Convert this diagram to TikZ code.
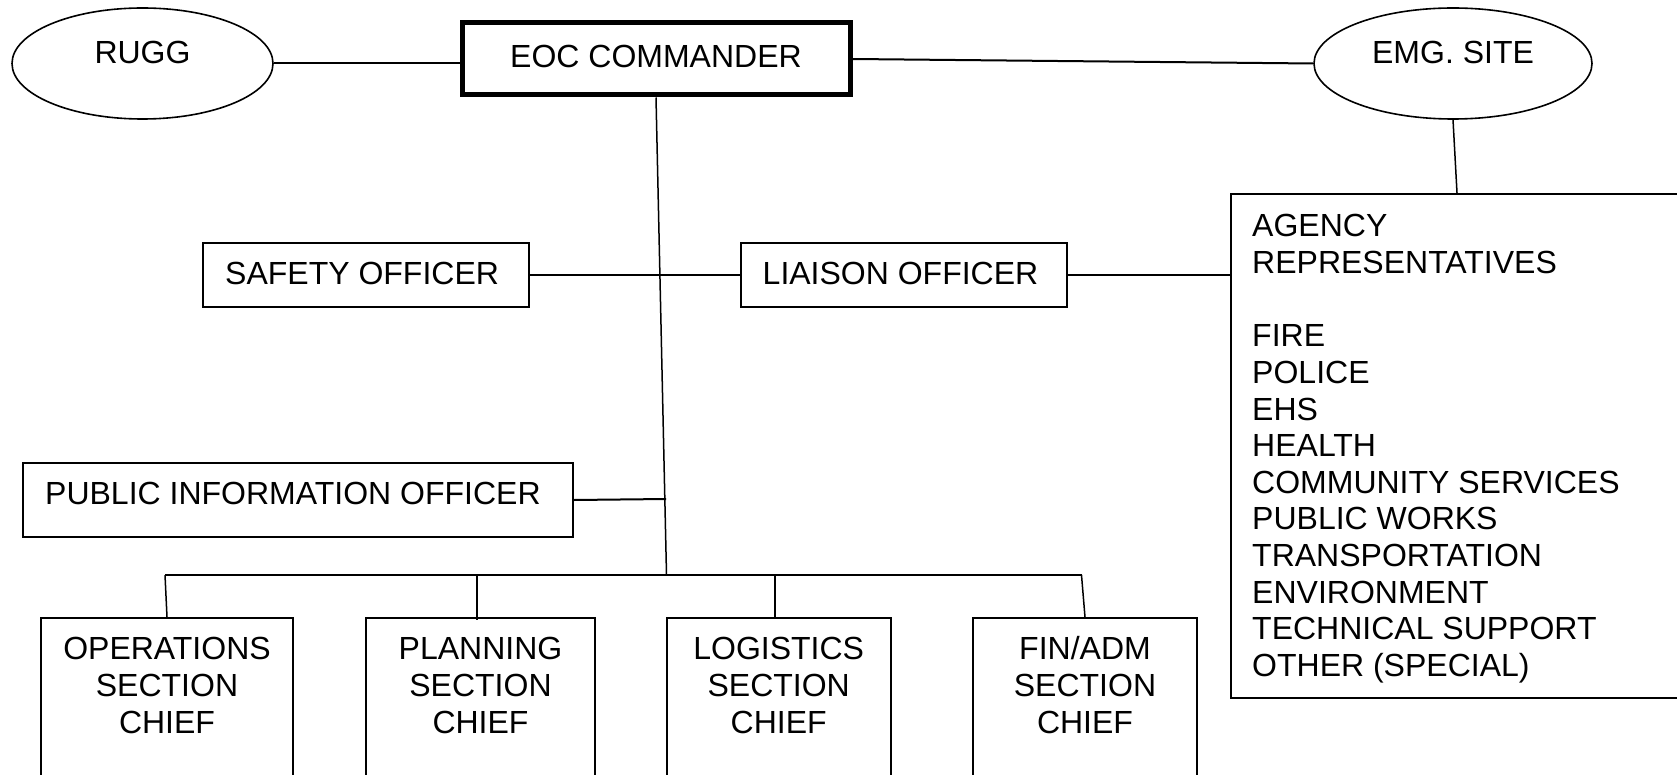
\documentclass[tikz,border=0pt]{standalone}
\usepackage{fontspec}
\setmainfont{Liberation Sans}
\usetikzlibrary{shapes.geometric,fit}
\begin{document}
\begin{tikzpicture}[x=1pt,y=-1pt,
  box/.style={draw, rectangle, line width=2pt, inner sep=0pt},
  oval/.style={draw, ellipse, line width=1.6pt, inner sep=0pt},
  txt/.style={font=\fontsize{32}{36.6}\selectfont, inner sep=0pt},
  link/.style={line width=2pt},
  thin link/.style={line width=1.5pt}]
\useasboundingbox (0,0) rectangle (1677,775);
\clip (0,0) rectangle (1677,775);
\fill[white] (0,0) rectangle (1677,775);

% ellipses
\node[oval, minimum width=261pt, minimum height=111pt] (rugg) at (142.5,63.5) {};
\node[txt, anchor=base] (ruggT) at (142.5,63.5) {RUGG};
\node[oval, minimum width=278pt, minimum height=111pt] (emg) at (1453,63.5) {};
\node[txt, anchor=base] (emgT) at (1453,63.5) {EMG. SITE};

% commander
\node[box, line width=5pt, fit={(462,23) (850,95)}] (eoc) {};
\node[txt, anchor=base] (eocT) at (656,67.5) {EOC COMMANDER};

% officers
\node[box, fit={(203,243) (529,307)}] (safety) {};
\node[txt, anchor=base west] (safetyT) at (225,284.5) {SAFETY OFFICER};
\node[box, fit={(740.5,243) (1067,307)}] (liaison) {};
\node[txt, anchor=base west] (liaisonT) at (762.5,284.5) {LIAISON OFFICER};
\node[box, fit={(23,463) (573,537)}] (pio) {};
\node[txt, anchor=base west] (pioT) at (45,504.5) {PUBLIC INFORMATION OFFICER};

% agency box
\node[box, fit={(1231,194) (1720,698)}] (agency) {};
\foreach \t/\i in {AGENCY/0, REPRESENTATIVES/1, FIRE/3, POLICE/4, EHS/5, HEALTH/6,
  COMMUNITY SERVICES/7, PUBLIC WORKS/8, TRANSPORTATION/9, ENVIRONMENT/10,
  TECHNICAL SUPPORT/11, OTHER (SPECIAL)/12}
  \node[txt, anchor=base west] (ag\i) at (1252,{237+36.6*\i}) {\t};

% section chiefs
\node[box, fit={(41,618) (293,830)}] (ops) {};
\node[box, fit={(366,618) (595,830)}] (plan) {};
\node[box, fit={(666.5,618) (891,830)}] (log) {};
\node[box, fit={(973,618) (1197,830)}] (fin) {};
\foreach \n/\a/\x in {ops/OPERATIONS/167, plan/PLANNING/480.5, log/LOGISTICS/778.7, fin/FIN\slash ADM/1085}{
  \node[txt, anchor=base] (\n T1) at (\x,659.5) {\a};
  \node[txt, anchor=base] (\n T2) at (\x,696.5) {SECTION};
  \node[txt, anchor=base] (\n T3) at (\x,733.5) {CHIEF};
}

% coordinates
\coordinate (busL) at (165,575);
\coordinate (busC) at (666.5,575);
\coordinate (busR) at (1081.5,575);
\coordinate (pioJ) at (666,499);
\coordinate (planJ) at (477,575);
\coordinate (logJ) at (775,575);

% connectors
\draw[link] (rugg.east) -- (rugg.east -| eoc.west);
\draw[link] (eoc.east) -- (emg.west);
\draw[thin link] (emg.south) -- ([xshift=4pt]emg.south |- agency.north);
\draw[link] (safety.east) -- (liaison.west);
\draw[link] (liaison.east) -- (liaison.east -| agency.west);
\draw[thin link] (eoc.south) -- (busC);
\draw[link] (pio.east) -- (pioJ);
\draw[line width=2.5pt] (busL) -- (busR);
\draw[thin link] (busL) -- (ops.north);
\draw[thin link] (planJ) -- ([yshift=-3pt]planJ |- plan.north);
\draw[thin link] (logJ) -- (logJ |- log.north);
\draw[thin link] (busR) -- (fin.north);
\end{tikzpicture}
\end{document}
